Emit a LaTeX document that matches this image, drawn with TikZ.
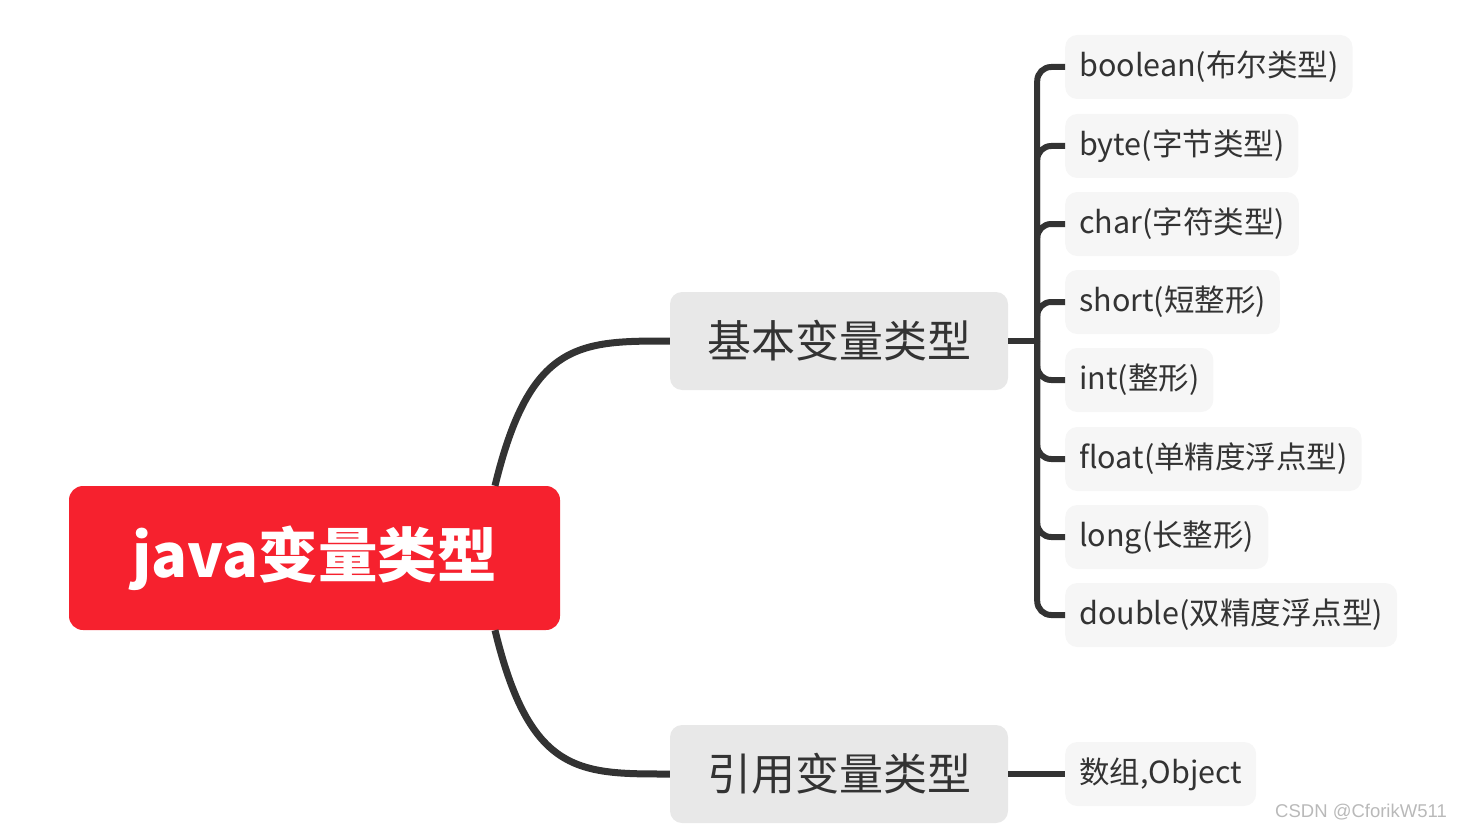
\documentclass[tikz,border=0pt]{standalone}
\usepackage{fontspec}
\setmainfont{Noto Sans CJK SC}
\newfontfamily\markfont{Liberation Sans}

\definecolor{rootred}{RGB}{246,33,46}
\definecolor{branchgray}{RGB}{232,232,232}
\definecolor{leafgray}{RGB}{246,246,246}
\definecolor{linkgray}{RGB}{51,51,51}
\definecolor{markgray}{RGB}{185,185,185}

\begin{document}
\begin{tikzpicture}[x=1pt, y=-1pt,
    root/.style={fill=rootred, rounded corners=14pt, minimum width=491pt, minimum height=144pt,
        text=white, font=\fontsize{59.5}{66}\selectfont\bfseries},
    branch/.style={fill=branchgray, rounded corners=12pt, minimum width=338pt, minimum height=98pt,
        text=linkgray, font=\fontsize{44}{50}\selectfont},
    leaf/.style={fill=leafgray, rounded corners=12pt, anchor=west, minimum height=64pt, inner xsep=14pt,
        text=linkgray, font=\fontsize{30.5}{35}\selectfont},
    trunk/.style={draw=linkgray, line width=7pt},
    link/.style={draw=linkgray, line width=6pt, rounded corners=14pt}]
    \useasboundingbox (0,0) rectangle (1463,829);

    % Draw root
    \node[root] (java) at (314.5,558) {java变量类型};

    % Draw branches
    \node[branch] (basic) at (839,341) {基本变量类型};
    \node[branch] (ref) at (839,774) {引用变量类型};

    % Draw leaves
    \node[leaf] (boolean) at (1065,67) {boolean(布尔类型)};
    \node[leaf] (byte) at (1065,146) {byte(字节类型)};
    \node[leaf] (char) at (1065,224) {char(字符类型)};
    \node[leaf] (short) at (1065,302) {short(短整形)};
    \node[leaf] (int) at (1065,380) {int(整形)};
    \node[leaf] (float) at (1065,459) {float(单精度浮点型)};
    \node[leaf] (long) at (1065,537) {long(长整形)};
    \node[leaf] (double) at (1065,615) {double(双精度浮点型)};
    \node[leaf] (object) at (1065,774) {数组,Object};

    % Draw curves from root
    \draw[trunk] ([xshift=180.5pt]java.north) .. controls +(35,-145) and +(-90,0) .. (basic.west);
    \draw[trunk] ([xshift=180.5pt]java.south) .. controls +(35,145) and +(-90,0) .. (ref.west);

    % Draw leaf links
    \coordinate (fork) at ([xshift=29pt]basic.east);
    \draw[link] (basic.east) -- (fork);
    \draw[link] (fork) |- (boolean.west);
    \draw[link] (fork) |- (byte.west);
    \draw[link] (fork) |- (char.west);
    \draw[link] (fork) |- (short.west);
    \draw[link] (fork) |- (int.west);
    \draw[link] (fork) |- (float.west);
    \draw[link] (fork) |- (long.west);
    \draw[link] (fork) |- (double.west);
    \draw[link] (ref.east) -- (object.west);

    % Label for watermark
    \node[text=markgray, font=\markfont\fontsize{18.5}{20}\selectfont] (mark) at (1361,812) {CSDN @CforikW511};
\end{tikzpicture}
\end{document}
